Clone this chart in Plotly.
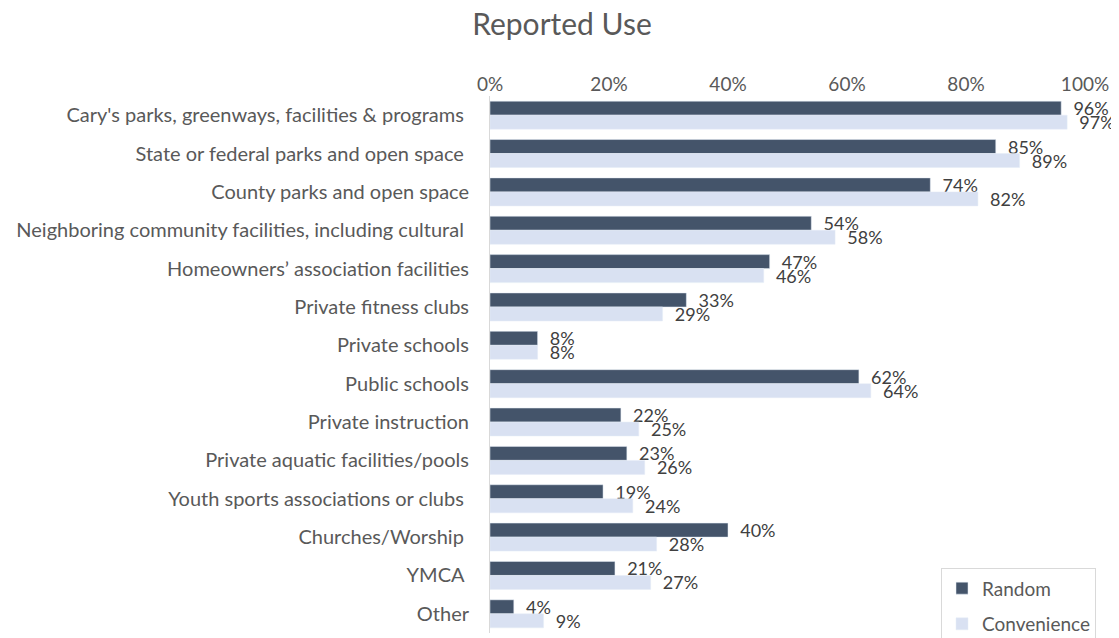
import plotly.graph_objects as go

categories = [
    "Cary's parks, greenways, facilities & programs ",
    "State or federal parks and open space ",
    "County parks and open space",
    "Neighboring community facilities, including cultural ",
    "Homeowners\u2019 association facilities",
    "Private fitness clubs",
    "Private schools",
    "Public schools",
    "Private instruction",
    "Private aquatic facilities/pools",
    "Youth sports associations or clubs ",
    "Churches/Worship ",
    "YMCA ",
    "Other",
]
random_pct = [0.96, 0.85, 0.74, 0.54, 0.47, 0.33, 0.08, 0.62, 0.22, 0.23, 0.19, 0.40, 0.21, 0.04]
convenience_pct = [0.97, 0.89, 0.82, 0.58, 0.46, 0.29, 0.08, 0.64, 0.25, 0.26, 0.24, 0.28, 0.27, 0.09]

font_fam = "Lato, 'Open Sans', sans-serif"
txt_col = "#404040"

fig = go.Figure()
fig.add_trace(go.Bar(
    y=categories, x=random_pct, name="Random", orientation="h",
    marker_color="#44546A", legendgroup="r",
    texttemplate="\u00a0\u00a0%{x:.0%}", textposition="outside", constraintext="none",
    textfont=dict(size=18, color=txt_col, family=font_fam),
    cliponaxis=False,
))
fig.add_trace(go.Bar(
    y=categories, x=convenience_pct, name="Convenience", orientation="h",
    marker_color="#D9E1F2", legendgroup="c",
    texttemplate="\u00a0\u00a0%{x:.0%}", textposition="outside", constraintext="none",
    textfont=dict(size=18, color=txt_col, family=font_fam),
    cliponaxis=False,
))

# the page body adds an 8px margin, so the figure is 8px smaller than the window
fig.update_layout(
    width=1111, height=630,
    barmode="group", bargap=0.27, bargroupgap=0,
    plot_bgcolor="white", paper_bgcolor="white",
    margin=dict(l=482, r=34, t=88, b=5, autoexpand=False),
    font=dict(family=font_fam, color="#595959", size=20),
    title=dict(text="Reported Use", x=0.4986, xanchor="center", y=0.99, yanchor="top",
               font=dict(size=30, color="#595959", family=font_fam)),
    legend=dict(x=0.758, y=-0.021, xanchor="left", yanchor="bottom",
                bordercolor="#D9D9D9", borderwidth=1, bgcolor="white",
                font=dict(size=19, color="#595959"), traceorder="grouped",
                itemwidth=30, tracegroupgap=8),
)
fig.update_xaxes(
    side="top", range=[0, 1], tickformat=".0%", dtick=0.2,
    showgrid=False, zeroline=False, showline=False, automargin=False,
    tickfont=dict(size=19, color="#595959"),
)
fig.update_yaxes(
    autorange="reversed", showgrid=False, showline=True, linecolor="#D9D9D9",
    ticks="", ticklabelstandoff=16, automargin=False,
    tickfont=dict(size=20, color="#595959"),
)

fig.write_html("out.html")
